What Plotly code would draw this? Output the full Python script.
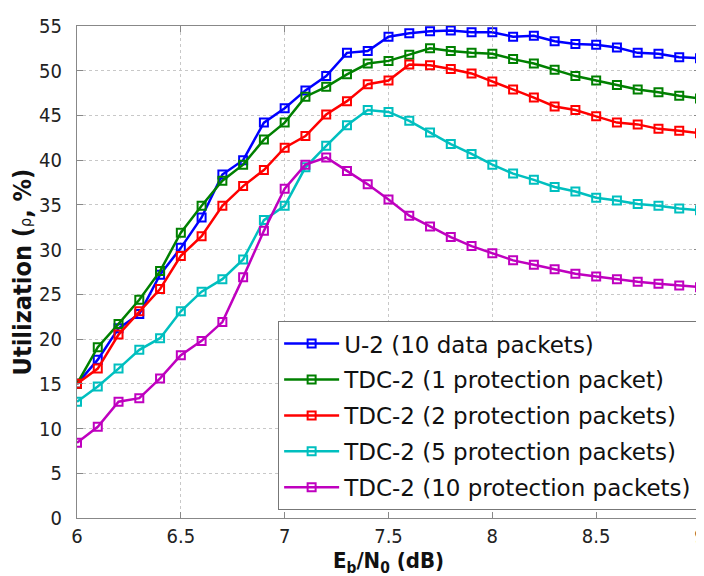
import plotly.graph_objects as go

x = [round(6.0 + 0.1 * i, 1) for i in range(31)]

u2 = [15.0, 17.7, 21.2, 22.8, 27.2, 30.2, 33.6, 38.4, 40.0, 44.2, 45.8, 47.8, 49.4, 52.0, 52.2, 53.8,
      54.2, 54.4, 54.5, 54.3, 54.3, 53.8, 53.9, 53.3, 53.0, 52.9, 52.6, 52.0, 51.9, 51.5, 51.4]
tdc1 = [15.0, 19.1, 21.7, 24.4, 27.6, 31.9, 34.9, 37.7, 39.5, 42.3, 44.2, 47.1, 48.2, 49.6, 50.8, 51.1,
        51.8, 52.5, 52.2, 52.0, 51.9, 51.3, 50.8, 50.1, 49.4, 48.9, 48.4, 47.9, 47.6, 47.2, 46.9]
tdc2 = [15.0, 16.7, 20.5, 23.1, 25.6, 29.3, 31.5, 34.9, 37.1, 38.9, 41.4, 42.7, 45.1, 46.6, 48.5, 48.9,
        50.7, 50.6, 50.2, 49.7, 48.8, 47.9, 47.0, 46.0, 45.6, 44.9, 44.2, 44.0, 43.5, 43.3, 43.0]
tdc5 = [13.0, 14.7, 16.7, 18.8, 20.1, 23.1, 25.3, 26.7, 28.9, 33.3, 34.9, 39.2, 41.6, 43.9, 45.6, 45.4,
        44.4, 43.1, 41.8, 40.7, 39.5, 38.5, 37.8, 37.0, 36.5, 35.8, 35.5, 35.1, 34.9, 34.6, 34.4]
tdc10 = [8.4, 10.2, 13.0, 13.4, 15.6, 18.2, 19.8, 21.9, 26.9, 32.1, 36.8, 39.5, 40.3, 38.8, 37.3, 35.6,
         33.8, 32.6, 31.4, 30.4, 29.6, 28.8, 28.3, 27.8, 27.3, 27.0, 26.7, 26.4, 26.2, 26.0, 25.8]

names = ["U-2 (10 data packets)", "TDC-2 (1 protection packet)", "TDC-2 (2 protection packets)",
         "TDC-2 (5 protection packets)", "TDC-2 (10 protection packets)"]
colors = ["#0000ff", "#008000", "#ff0000", "#00bfbf", "#bf00bf"]
series = [u2, tdc1, tdc2, tdc5, tdc10]
x_ticks = [6, 6.5, 7, 7.5, 8, 8.5, 9]
x_ticktext = ["6", "6.5", "7", "7.5", "8", "8.5", "9"]

NARROW = "DejaVu Sans Condensed, sans-serif"

fig = go.Figure()
for i, (n, c, s) in enumerate(zip(names, colors, series)):
    fig.add_trace(go.Scatter(
        x=x, y=s, name=n, mode="lines+markers", legendgroup=f"g{i}",
        line=dict(color=c, width=2.5),
        marker=dict(symbol="square-open", size=8, color=c, line=dict(width=2, color=c)),
    ))

axis_common = dict(
    showline=True, linecolor="#888888", linewidth=1, mirror="ticks",
    ticks="inside", ticklen=6, tickcolor="#888888",
    showgrid=True, gridcolor="#c8c8c8", griddash="dot", gridwidth=1,
    zeroline=False, tickfont=dict(family=NARROW, size=20, color="#222"),
)

fig.update_xaxes(range=[6, 9], tickvals=x_ticks, ticktext=x_ticktext,
                 ticklabeloverflow="allow",
                 title=dict(text="<b>E<sub>b</sub>/N<sub>0</sub> (dB)</b>",
                            font=dict(family=NARROW, size=22, color="#111"),
                            standoff=0),
                 **axis_common)
fig.update_yaxes(range=[0, 55], dtick=5, ticklabelstandoff=10,
                 title=dict(text="<b>Utilization (</b><span style='font-size:16px'>ρ</span><b>, %)</b>",
                            font=dict(family=NARROW, size=25, color="#111"),
                            standoff=8),
                 **axis_common)

fig.update_layout(
    width=704, height=576,
    margin=dict(l=69, r=6, t=14, b=66),
    plot_bgcolor="white", paper_bgcolor="white",
    legend=dict(x=0.997, y=0.016, xanchor="right", yanchor="bottom",
                bgcolor="white", bordercolor="#777777", borderwidth=1,
                font=dict(family="DejaVu Sans", size=23, color="#111"),
                tracegroupgap=3, traceorder="grouped",
                itemwidth=55),
)

fig.write_html("out.html")
